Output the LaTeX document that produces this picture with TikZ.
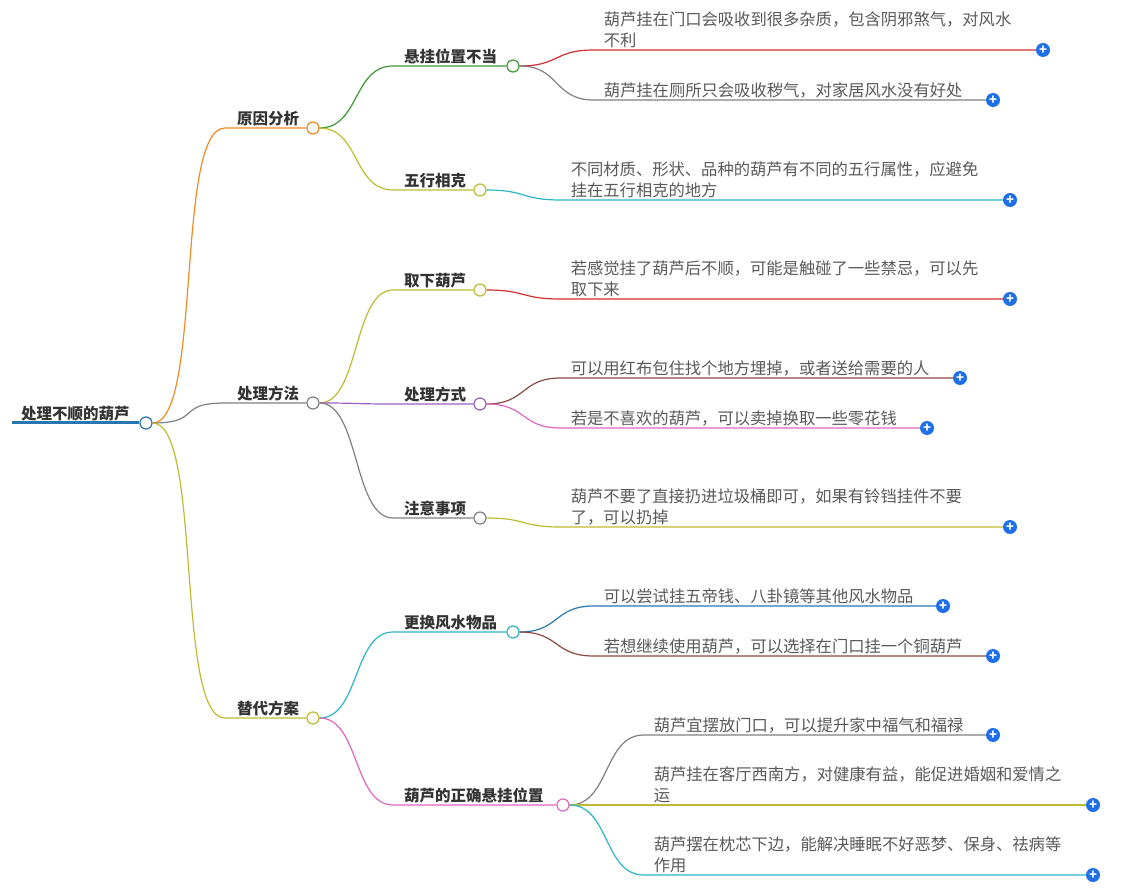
\documentclass[tikz,border=0pt]{standalone}
\usepackage{fontspec}
\setmainfont{Noto Sans CJK SC}
\usetikzlibrary{positioning}

\definecolor{cOrange}{HTML}{F08A24}
\definecolor{cGray}{HTML}{808080}
\definecolor{cOlive}{HTML}{C0BA32}
\definecolor{cGreen}{HTML}{3A9A32}
\definecolor{cPurple}{HTML}{9A5FC0}
\definecolor{cCyan}{HTML}{2AB5C8}
\definecolor{cPink}{HTML}{E066C0}
\definecolor{cRed}{HTML}{D0302F}
\definecolor{cBrown}{HTML}{8B4A3E}
\definecolor{cBlue}{HTML}{2676B0}
\definecolor{cPlus}{HTML}{1E6FE8}

\tikzset{
  dot/.style={circle,draw=#1,fill=white,minimum size=12pt,inner sep=0pt,line width=1.2pt},
  lbl/.style={font=\fontsize{15.5}{18}\selectfont\bfseries,text=black!80,anchor=south west,inner sep=2pt},
  leaf/.style={font=\fontsize{16.3}{21}\selectfont,text=black!65,anchor=south west,align=left,inner sep=1pt},
  plus/.style={circle,fill=cPlus,minimum size=14pt,inner sep=0pt,text=white,font=\bfseries\fontsize{13}{13}\selectfont},
  edge/.style={line width=1.2pt}
}

\begin{document}
\begin{tikzpicture}[x=1pt,y=-1pt]
\useasboundingbox (0,0) rectangle (1133,890);

% root
\node[dot=cBlue] (root) at (146,423) {};
\draw[cBlue,line width=3pt] (12,423) -- (root.west);
\node[lbl,anchor=south west] at (19,423) {处理不顺的葫芦};

% first level
\foreach \name/\y/\col/\txt in {yy/128/cOrange/原因分析, ff/403/cGray/处理方法, td/718/cOlive/替代方案} {
    \node[dot=\col] (\name) at (313,\y) {};
    \coordinate (\name s) at (225,\y);
    \draw[edge,\col] (root.east) .. controls +(50,0) and +(-50,0) .. (\name s) -- (\name.west);
    \node[lbl] at (235,\y) {\txt};
}

% second level
\foreach \up/\name/\x/\y/\col/\txt in {
    yy/wz/513/66/cGreen/悬挂位置不当, yy/wx/480/190/cOlive/五行相克,
    ff/qx/480/290/cOlive/取下葫芦, ff/fs/480/404/cPurple/处理方式, ff/zy/480/518/cGray/注意事项,
    td/gh/513/632/cCyan/更换风水物品, td/zq/563/805/cPink/葫芦的正确悬挂位置} {
    \node[dot=\col] (\name) at (\x,\y) {};
    \coordinate (\name s) at (393,\y);
    \draw[edge,\col] (\up.east) .. controls +(40,0) and +(-40,0) .. (\name s) -- (\name.west);
    \node[lbl] at (402,\y) {\txt};
}

% leaves
\foreach \up/\n/\y/\px/\col/\txt in {
    wz/1/50/1043/cRed/{葫芦挂在门口会吸收到很多杂质，包含阴邪煞气，对风水\\不利},
    wz/2/100/993/cGray/{葫芦挂在厕所只会吸收秽气，对家居风水没有好处},
    wx/3/200/1010/cCyan/{不同材质、形状、品种的葫芦有不同的五行属性，应避免\\挂在五行相克的地方},
    qx/4/299/1010/cRed/{若感觉挂了葫芦后不顺，可能是触碰了一些禁忌，可以先\\取下来},
    fs/5/378/960/cBrown/{可以用红布包住找个地方埋掉，或者送给需要的人},
    fs/6/428/927/cPink/{若是不喜欢的葫芦，可以卖掉换取一些零花钱},
    zy/7/527/1010/cOlive/{葫芦不要了直接扔进垃圾桶即可，如果有铃铛挂件不要\\了，可以扔掉},
    gh/8/606/943/cBlue/{可以尝试挂五帝钱、八卦镜等其他风水物品},
    gh/9/656/993/cBrown/{若想继续使用葫芦，可以选择在门口挂一个铜葫芦},
    zq/10/735/993/cGray/{葫芦宜摆放门口，可以提升家中福气和福禄},
    zq/11/805/1093/cOlive/{葫芦挂在客厅西南方，对健康有益，能促进婚姻和爱情之\\运},
    zq/12/875/1093/cCyan/{葫芦摆在枕芯下边，能解决睡眠不好恶梦、保身、祛病等\\作用}} {
    \node[plus] (p\n) at (\px,\y) {+};
    \path (\up.east) ++(74,0) coordinate (t\n);
    \coordinate (l\n) at (t\n |- p\n);
    \draw[edge,\col] (\up.east) .. controls +(40,0) and +(-40,0) .. (l\n) -- (p\n.west);
    \node[leaf] at ([xshift=9pt,yshift=1pt]l\n) {\txt};
}
\end{tikzpicture}
\end{document}
